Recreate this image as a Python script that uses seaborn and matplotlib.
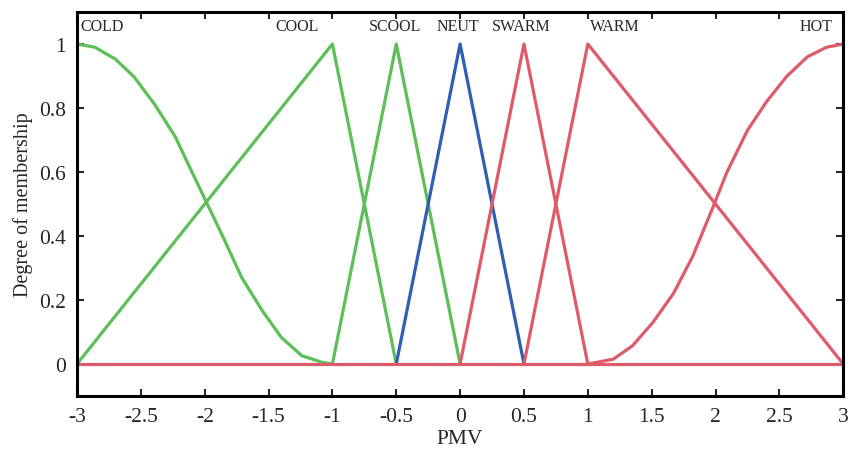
import numpy as np
import pandas as pd
import matplotlib
matplotlib.use("Agg")
from matplotlib import pyplot as plt
from matplotlib.ticker import FuncFormatter
import seaborn as sns

# membership functions
cold_x = [-3.0, -2.86, -2.70, -2.55, -2.39, -2.23, -2.13, -1.98, -1.86, -1.71,
          -1.55, -1.40, -1.24, -1.08, -1.0]
cold_y = [1.0, 0.99, 0.953, 0.896, 0.81, 0.71, 0.625, 0.5, 0.40, 0.27,
          0.167, 0.083, 0.026, 0.005, 0.0]
cool_x = [-3.0, -1.0, -0.5]
cool_y = [0.0, 1.0, 0.0]
scool_x = [-1.0, -0.5, 0.0]
scool_y = [0.0, 1.0, 0.0]
neut_x = [-0.5, 0.0, 0.5]
neut_y = [0.0, 1.0, 0.0]
swarm_x = [0.0, 0.5, 1.0]
swarm_y = [0.0, 1.0, 0.0]
warm_x = [0.5, 1.0, 3.0]
warm_y = [0.0, 1.0, 0.0]
hot_x = [1.0, 1.20, 1.35, 1.51, 1.67, 1.82, 1.98, 2.09, 2.25, 2.40,
         2.56, 2.72, 2.87, 3.0]
hot_y = [0.0, 0.015, 0.057, 0.13, 0.22, 0.335, 0.49, 0.60, 0.73, 0.82,
         0.90, 0.96, 0.99, 1.0]
base_x = [-3.0, 3.0]
base_y = [0.0, 0.0]

labels = ["COLD", "COOL", "SCOOL", "NEUT", "SWARM", "WARM", "HOT"]
label_pos = [-2.8, -1.28, -0.51, -0.02, 0.48, 1.21, 2.79]

green = "#5cbf58"
blue = "#2f5fb3"
red = "#de5b6b"

sns.set_style("ticks")
plt.rcParams['font.family'] = ['Liberation Serif', 'DejaVu Serif']

fig = plt.figure(figsize=(8.5, 4.52), dpi=100)
ax = fig.add_axes([0.0906, 0.1217, 0.9014, 0.8495])

lw = 2.3
series = [(cold_x, cold_y, green), (cool_x, cool_y, green), (scool_x, scool_y, green),
          (neut_x, neut_y, blue), (swarm_x, swarm_y, red), (warm_x, warm_y, red),
          (hot_x, hot_y, red), (base_x, base_y, red)]
for xs, ys, c in series:
    sns.lineplot(x=xs, y=ys, color=c, linewidth=lw, ax=ax, sort=False, estimator=None)

for t, xp in zip(labels, label_pos):
    ax.text(xp, 1.055, t, ha="center", va="center", fontsize=11.5)

ax.set_xlim(-3, 3)
ax.set_ylim(-0.1, 1.1)
ax.set_xticks(np.arange(-3, 3.01, 0.5))
ax.set_yticks(np.arange(0, 1.01, 0.2))
fmt = FuncFormatter(lambda v, p: "%g" % round(v, 2))
ax.xaxis.set_major_formatter(fmt)
ax.yaxis.set_major_formatter(fmt)
ax.tick_params(direction="in", length=5, width=1.5, labelsize=15.5,
               top=True, right=True, pad=8)
for s in ax.spines.values():
    s.set_linewidth(2.2)
    s.set_color("black")
ax.set_xlabel("PMV", fontsize=15.5, labelpad=2)
ax.set_ylabel("Degree of membership", fontsize=14.5, labelpad=4)

fig.savefig("out.png", dpi=100)
